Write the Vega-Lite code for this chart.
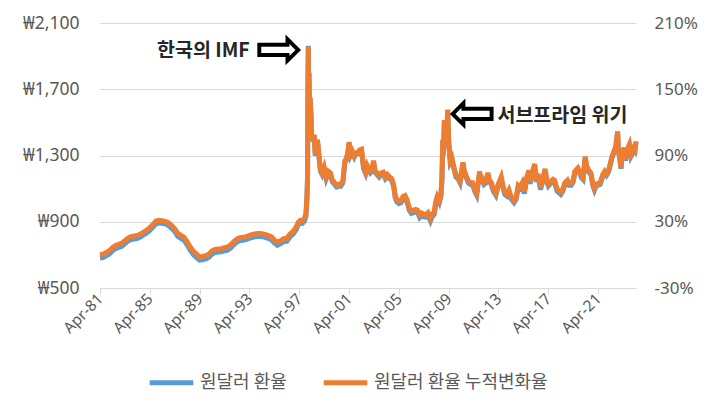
{
  "$schema": "https://vega.github.io/schema/vega-lite/v6.json",
  "width": 536,
  "height": 265,
  "autosize": {"type": "none"},
  "padding": {"left": 100, "top": 23, "right": 74, "bottom": 127},
  "background": "white",
  "config": {
    "view": {"stroke": null},
    "font": "Noto Sans",
    "axis": {"labelColor": "#595959", "title": null}
  },
  "datasets": {
    "fx": [
      {"d":"1981-04-01","r":681,"p":0.1},{"d":"1981-07-01","r":684,"p":0.6},{"d":"1981-10-01","r":694,"p":2.1},
      {"d":"1982-01-01","r":705,"p":3.7},{"d":"1982-04-01","r":725,"p":6.6},{"d":"1982-07-01","r":738,"p":8.5},{"d":"1982-10-01","r":745,"p":9.6},
      {"d":"1983-01-01","r":752,"p":10.6},{"d":"1983-04-01","r":768,"p":12.9},{"d":"1983-07-01","r":783,"p":15.1},{"d":"1983-10-01","r":793,"p":16.6},
      {"d":"1984-01-01","r":796,"p":17.1},{"d":"1984-04-01","r":800,"p":17.6},{"d":"1984-07-01","r":808,"p":18.8},{"d":"1984-10-01","r":820,"p":20.6},
      {"d":"1985-01-01","r":832,"p":22.4},{"d":"1985-04-01","r":848,"p":24.7},{"d":"1985-07-01","r":868,"p":27.6},{"d":"1985-10-01","r":888,"p":30.6},
      {"d":"1986-01-01","r":893,"p":31.3},{"d":"1986-04-01","r":891,"p":31.0},{"d":"1986-07-01","r":887,"p":30.4},{"d":"1986-10-01","r":878,"p":29.1},
      {"d":"1987-01-01","r":860,"p":26.5},{"d":"1987-04-01","r":842,"p":23.8},{"d":"1987-07-01","r":812,"p":19.4},{"d":"1987-10-01","r":800,"p":17.6},
      {"d":"1988-01-01","r":788,"p":15.9},{"d":"1988-04-01","r":760,"p":11.8},{"d":"1988-07-01","r":728,"p":7.1},{"d":"1988-10-01","r":702,"p":3.2},
      {"d":"1989-01-01","r":684,"p":0.6},{"d":"1989-04-01","r":668,"p":-1.8},{"d":"1989-07-01","r":670,"p":-1.5},{"d":"1989-10-01","r":675,"p":-0.7},
      {"d":"1990-01-01","r":685,"p":0.7},{"d":"1990-04-01","r":705,"p":3.7},{"d":"1990-07-01","r":714,"p":5.0},{"d":"1990-10-01","r":717,"p":5.4},
      {"d":"1991-01-01","r":718,"p":5.6},{"d":"1991-04-01","r":724,"p":6.5},{"d":"1991-07-01","r":728,"p":7.1},{"d":"1991-10-01","r":742,"p":9.1},
      {"d":"1992-01-01","r":762,"p":12.1},{"d":"1992-04-01","r":778,"p":14.4},{"d":"1992-07-01","r":786,"p":15.6},{"d":"1992-10-01","r":788,"p":15.9},
      {"d":"1993-01-01","r":792,"p":16.5},{"d":"1993-04-01","r":800,"p":17.6},{"d":"1993-07-01","r":806,"p":18.5},{"d":"1993-10-01","r":810,"p":19.1},
      {"d":"1994-01-01","r":812,"p":19.4},{"d":"1994-04-01","r":810,"p":19.1},{"d":"1994-07-01","r":806,"p":18.5},{"d":"1994-10-01","r":800,"p":17.6},
      {"d":"1995-01-01","r":792,"p":16.5},{"d":"1995-04-01","r":772,"p":13.5},{"d":"1995-07-01","r":758,"p":11.5},{"d":"1995-10-01","r":768,"p":12.9},
      {"d":"1996-01-01","r":780,"p":14.7},{"d":"1996-04-01","r":782,"p":15.0},{"d":"1996-07-01","r":808,"p":18.8},{"d":"1996-10-01","r":825,"p":21.3},
      {"d":"1997-01-01","r":852,"p":25.3},{"d":"1997-03-01","r":880,"p":29.4},{"d":"1997-05-01","r":892,"p":31.2},{"d":"1997-07-01","r":890,"p":30.9},
      {"d":"1997-09-01","r":905,"p":33.1},{"d":"1997-10-15","r":935,"p":37.5},{"d":"1997-11-15","r":1050,"p":54.4},{"d":"1997-12-01","r":1170,"p":72.1},
      {"d":"1997-12-12","r":1720,"p":152.9},{"d":"1997-12-23","r":1962,"p":188.5},{"d":"1997-12-31","r":1500,"p":120.6},
      {"d":"1998-01-10","r":1800,"p":164.7},{"d":"1998-01-25","r":1650,"p":142.6},{"d":"1998-02-15","r":1640,"p":141.2},{"d":"1998-03-10","r":1550,"p":127.9},
      {"d":"1998-04-01","r":1400,"p":105.9},{"d":"1998-05-01","r":1395,"p":105.1},{"d":"1998-06-15","r":1420,"p":108.8},{"d":"1998-07-15","r":1300,"p":91.2},
      {"d":"1998-08-15","r":1320,"p":94.1},{"d":"1998-09-15","r":1390,"p":104.4},{"d":"1998-10-15","r":1330,"p":95.6},{"d":"1998-11-15","r":1260,"p":85.3},
      {"d":"1998-12-15","r":1205,"p":77.2},
      {"d":"1999-02-01","r":1185,"p":74.3},{"d":"1999-04-01","r":1220,"p":79.4},{"d":"1999-06-01","r":1160,"p":70.6},{"d":"1999-08-01","r":1195,"p":75.7},
      {"d":"1999-10-01","r":1185,"p":74.3},{"d":"1999-12-01","r":1140,"p":67.6},
      {"d":"2000-02-01","r":1125,"p":65.4},{"d":"2000-04-01","r":1110,"p":63.2},{"d":"2000-06-01","r":1115,"p":64.0},{"d":"2000-08-01","r":1115,"p":64.0},
      {"d":"2000-10-01","r":1135,"p":66.9},{"d":"2000-12-01","r":1260,"p":85.3},
      {"d":"2001-01-15","r":1275,"p":87.5},{"d":"2001-03-01","r":1320,"p":94.1},{"d":"2001-04-05","r":1375,"p":102.2},{"d":"2001-05-15","r":1300,"p":91.2},
      {"d":"2001-07-01","r":1320,"p":94.1},{"d":"2001-09-01","r":1290,"p":89.7},{"d":"2001-10-15","r":1310,"p":92.6},{"d":"2001-12-15","r":1310,"p":92.6},
      {"d":"2002-02-01","r":1325,"p":94.9},{"d":"2002-04-01","r":1330,"p":95.6},{"d":"2002-06-01","r":1220,"p":79.4},{"d":"2002-08-01","r":1190,"p":75.0},
      {"d":"2002-09-15","r":1230,"p":80.9},{"d":"2002-11-01","r":1210,"p":77.9},{"d":"2002-12-15","r":1195,"p":75.7},
      {"d":"2003-02-01","r":1205,"p":77.2},{"d":"2003-03-20","r":1260,"p":85.3},{"d":"2003-05-01","r":1200,"p":76.5},{"d":"2003-07-01","r":1185,"p":74.3},
      {"d":"2003-09-01","r":1170,"p":72.1},{"d":"2003-11-01","r":1185,"p":74.3},
      {"d":"2004-01-01","r":1190,"p":75.0},{"d":"2004-03-01","r":1160,"p":70.6},{"d":"2004-05-01","r":1175,"p":72.8},{"d":"2004-07-01","r":1160,"p":70.6},
      {"d":"2004-09-01","r":1150,"p":69.1},{"d":"2004-11-01","r":1110,"p":63.2},{"d":"2004-12-15","r":1045,"p":53.7},
      {"d":"2005-02-01","r":1020,"p":50.0},{"d":"2005-04-01","r":1010,"p":48.5},{"d":"2005-06-01","r":1015,"p":49.3},{"d":"2005-08-01","r":1040,"p":52.9},
      {"d":"2005-10-01","r":1045,"p":53.7},{"d":"2005-12-01","r":1015,"p":49.3},
      {"d":"2006-02-01","r":970,"p":42.6},{"d":"2006-04-01","r":950,"p":39.7},{"d":"2006-06-01","r":955,"p":40.4},{"d":"2006-08-01","r":960,"p":41.2},
      {"d":"2006-10-01","r":955,"p":40.4},{"d":"2006-12-01","r":925,"p":36.0},
      {"d":"2007-02-01","r":938,"p":37.9},{"d":"2007-04-01","r":930,"p":36.8},{"d":"2007-06-01","r":928,"p":36.5},{"d":"2007-08-01","r":940,"p":38.2},
      {"d":"2007-10-15","r":905,"p":33.1},{"d":"2007-12-01","r":930,"p":36.8},
      {"d":"2008-02-01","r":945,"p":39.0},{"d":"2008-03-20","r":1010,"p":48.5},{"d":"2008-05-01","r":1040,"p":52.9},{"d":"2008-07-01","r":1015,"p":49.3},
      {"d":"2008-08-15","r":1050,"p":54.4},{"d":"2008-09-15","r":1150,"p":69.1},{"d":"2008-10-10","r":1390,"p":104.4},{"d":"2008-10-30","r":1300,"p":91.2},
      {"d":"2008-11-25","r":1510,"p":122.1},{"d":"2008-12-15","r":1350,"p":98.5},
      {"d":"2009-01-15","r":1380,"p":102.9},{"d":"2009-02-20","r":1500,"p":120.6},{"d":"2009-03-03","r":1575,"p":131.6},{"d":"2009-04-01","r":1380,"p":102.9},
      {"d":"2009-05-15","r":1260,"p":85.3},{"d":"2009-07-01","r":1280,"p":88.2},{"d":"2009-09-01","r":1220,"p":79.4},{"d":"2009-11-01","r":1170,"p":72.1},
      {"d":"2010-01-01","r":1160,"p":70.6},{"d":"2010-03-01","r":1135,"p":66.9},{"d":"2010-05-25","r":1250,"p":83.8},{"d":"2010-07-01","r":1200,"p":76.5},
      {"d":"2010-09-01","r":1165,"p":71.3},{"d":"2010-11-01","r":1135,"p":66.9},
      {"d":"2011-01-01","r":1125,"p":65.4},{"d":"2011-03-01","r":1125,"p":65.4},{"d":"2011-05-01","r":1085,"p":59.6},{"d":"2011-07-01","r":1060,"p":55.9},
      {"d":"2011-09-26","r":1195,"p":75.7},{"d":"2011-10-15","r":1150,"p":69.1},{"d":"2011-12-01","r":1155,"p":69.9},
      {"d":"2012-02-01","r":1125,"p":65.4},{"d":"2012-04-01","r":1135,"p":66.9},{"d":"2012-05-25","r":1185,"p":74.3},{"d":"2012-07-01","r":1145,"p":68.4},
      {"d":"2012-09-01","r":1125,"p":65.4},{"d":"2012-11-01","r":1085,"p":59.6},
      {"d":"2013-01-15","r":1060,"p":55.9},{"d":"2013-03-15","r":1110,"p":63.2},{"d":"2013-06-20","r":1160,"p":70.6},{"d":"2013-08-01","r":1115,"p":64.0},
      {"d":"2013-10-01","r":1065,"p":56.6},{"d":"2013-12-01","r":1055,"p":55.1},
      {"d":"2014-02-01","r":1080,"p":58.8},{"d":"2014-04-01","r":1040,"p":52.9},{"d":"2014-07-01","r":1015,"p":49.3},{"d":"2014-09-01","r":1035,"p":52.2},
      {"d":"2014-11-01","r":1110,"p":63.2},
      {"d":"2015-01-01","r":1100,"p":61.8},{"d":"2015-03-01","r":1125,"p":65.4},{"d":"2015-04-30","r":1070,"p":57.4},{"d":"2015-07-01","r":1150,"p":69.1},
      {"d":"2015-09-07","r":1200,"p":76.5},{"d":"2015-10-15","r":1130,"p":66.2},{"d":"2015-12-01","r":1175,"p":72.8},
      {"d":"2016-02-25","r":1240,"p":82.4},{"d":"2016-04-15","r":1140,"p":67.6},{"d":"2016-06-01","r":1180,"p":73.5},{"d":"2016-08-15","r":1095,"p":61.0},
      {"d":"2016-10-15","r":1140,"p":67.6},{"d":"2016-12-28","r":1210,"p":77.9},
      {"d":"2017-02-15","r":1140,"p":67.6},{"d":"2017-04-01","r":1115,"p":64.0},{"d":"2017-06-01","r":1130,"p":66.2},{"d":"2017-08-15","r":1145,"p":68.4},
      {"d":"2017-10-01","r":1140,"p":67.6},{"d":"2017-12-15","r":1085,"p":59.6},
      {"d":"2018-02-01","r":1075,"p":58.1},{"d":"2018-04-01","r":1065,"p":56.6},{"d":"2018-06-01","r":1085,"p":59.6},{"d":"2018-08-01","r":1125,"p":65.4},
      {"d":"2018-10-15","r":1140,"p":67.6},{"d":"2018-12-01","r":1120,"p":64.7},
      {"d":"2019-02-01","r":1120,"p":64.7},{"d":"2019-04-01","r":1140,"p":67.6},{"d":"2019-05-20","r":1195,"p":75.7},{"d":"2019-08-15","r":1215,"p":78.7},
      {"d":"2019-10-01","r":1195,"p":75.7},{"d":"2019-12-01","r":1165,"p":71.3},
      {"d":"2020-01-15","r":1155,"p":69.9},{"d":"2020-03-19","r":1285,"p":89.0},{"d":"2020-05-01","r":1225,"p":80.1},{"d":"2020-07-01","r":1200,"p":76.5},
      {"d":"2020-09-01","r":1185,"p":74.3},{"d":"2020-11-01","r":1115,"p":64.0},{"d":"2020-12-15","r":1090,"p":60.3},
      {"d":"2021-02-01","r":1115,"p":64.0},{"d":"2021-04-01","r":1120,"p":64.7},{"d":"2021-06-01","r":1125,"p":65.4},{"d":"2021-08-15","r":1175,"p":72.8},
      {"d":"2021-10-12","r":1195,"p":75.7},{"d":"2021-12-01","r":1180,"p":73.5},
      {"d":"2022-02-01","r":1200,"p":76.5},{"d":"2022-03-15","r":1235,"p":81.6},{"d":"2022-05-12","r":1285,"p":89.0},{"d":"2022-07-15","r":1320,"p":94.1},
      {"d":"2022-09-01","r":1350,"p":98.5},{"d":"2022-10-25","r":1440,"p":111.8},{"d":"2022-11-15","r":1330,"p":95.6},{"d":"2022-12-15","r":1295,"p":90.4},
      {"d":"2023-02-02","r":1220,"p":79.4},{"d":"2023-03-15","r":1310,"p":92.6},{"d":"2023-05-01","r":1340,"p":97.1},{"d":"2023-06-15","r":1270,"p":86.8},
      {"d":"2023-08-15","r":1335,"p":96.3},{"d":"2023-10-05","r":1360,"p":100.0},{"d":"2023-11-20","r":1295,"p":90.4},{"d":"2023-12-15","r":1305,"p":91.9},
      {"d":"2024-02-01","r":1335,"p":96.3},{"d":"2024-03-15","r":1325,"p":94.9},{"d":"2024-04-16","r":1380,"p":102.9}
    ],
    "notes": [
      {"d":"1993-04-10","r":1932,"t":"한국의 IMF","k":"imf"},
      {"d":"1995-09-01","r":1932,"t":"⇨","k":"arrow"},
      {"d":"2013-03-01","r":1540,"t":"서브프라임 위기","k":"sub"},
      {"d":"2011-03-10","r":1545,"t":"⇦","k":"arrow"}
    ]
  },
  "layer": [
    {
      "data": {"name": "fx"},
      "mark": {"type": "line", "strokeWidth": 5},
      "encoding": {
        "x": {
          "field": "d", "type": "temporal",
          "scale": {"domain": ["1981-04-01", "2024-04-16"]},
          "axis": {
            "values": [
              {"year":1981,"month":4,"date":1},{"year":1985,"month":4,"date":1},{"year":1989,"month":4,"date":1},
              {"year":1993,"month":4,"date":1},{"year":1997,"month":4,"date":1},{"year":2001,"month":4,"date":1},
              {"year":2005,"month":4,"date":1},{"year":2009,"month":4,"date":1},{"year":2013,"month":4,"date":1},
              {"year":2017,"month":4,"date":1},{"year":2021,"month":4,"date":1}
            ],
            "format": "%b-%y", "labelAngle": -45, "labelAlign": "right", "labelBaseline": "middle",
            "grid": false, "domainColor": "#d9d9d9", "tickColor": "#d9d9d9", "tickSize": 6,
            "labelFontSize": 15.5, "labelPadding": 2, "labelOverlap": false, "labelBound": false
          }
        },
        "y": {
          "field": "r", "type": "quantitative",
          "scale": {"domain": [500, 2100], "nice": false, "zero": false},
          "axis": {
            "values": [500, 900, 1300, 1700, 2100],
            "labelExpr": "'₩' + format(datum.value, ',')",
            "grid": true, "gridColor": "#d9d9d9", "domain": false, "ticks": false,
            "labelFontSize": 17.5, "labelPadding": 21
          }
        },
        "color": {
          "datum": "원달러 환율",
          "scale": {"domain": ["원달러 환율", "원달러 환율 누적변화율"], "range": ["#5B9BD5", "#ED7D31"]},
          "legend": {
            "orient": "none", "legendX": 47, "legendY": 335, "direction": "horizontal", "title": null,
            "symbolType": "stroke", "symbolSize": 1900, "symbolStrokeWidth": 5,
            "labelFontSize": 18, "labelColor": "#595959", "labelFont": "Noto Sans CJK KR",
            "columnPadding": 26, "labelOffset": 4, "labelLimit": 400
          }
        }
      }
    },
    {
      "data": {"name": "fx"},
      "mark": {"type": "line", "strokeWidth": 5},
      "encoding": {
        "x": {"field": "d", "type": "temporal"},
        "y": {
          "field": "p", "type": "quantitative",
          "scale": {"domain": [-30, 210], "nice": false, "zero": false},
          "axis": {
            "orient": "right",
            "values": [-30, 30, 90, 150, 210],
            "labelExpr": "datum.value + '%'",
            "grid": false, "domain": false, "ticks": false,
            "labelFontSize": 17, "labelPadding": 18
          }
        },
        "color": {"datum": "원달러 환율 누적변화율"}
      }
    },
    {
      "data": {"name": "notes"},
      "transform": [{"filter": "datum.k == 'imf'"}],
      "mark": {"type": "text", "align": "right", "baseline": "middle", "font": "Noto Sans CJK KR", "fontWeight": "bold", "fontSize": 19.5, "color": "#262626"},
      "encoding": {
        "x": {"field": "d", "type": "temporal"},
        "y": {"field": "r", "type": "quantitative", "scale": {"domain": [500, 2100], "nice": false, "zero": false}, "axis": null},
        "text": {"field": "t"}
      }
    },
    {
      "data": {"name": "notes"},
      "transform": [{"filter": "datum.k == 'sub'"}],
      "mark": {"type": "text", "align": "left", "baseline": "middle", "font": "Noto Sans CJK KR", "fontWeight": "bold", "fontSize": 19.5, "color": "#262626"},
      "encoding": {
        "x": {"field": "d", "type": "temporal"},
        "y": {"field": "r", "type": "quantitative", "scale": {"domain": [500, 2100], "nice": false, "zero": false}, "axis": null},
        "text": {"field": "t"}
      }
    },
    {
      "data": {"name": "notes"},
      "transform": [{"filter": "datum.k == 'arrow'"}],
      "mark": {"type": "text", "align": "center", "baseline": "middle", "font": "DejaVu Sans", "fontWeight": "bold", "fontSize": 58, "color": "#000000"},
      "encoding": {
        "x": {"field": "d", "type": "temporal"},
        "y": {"field": "r", "type": "quantitative", "scale": {"domain": [500, 2100], "nice": false, "zero": false}, "axis": null},
        "text": {"field": "t"}
      }
    }
  ],
  "resolve": {"scale": {"y": "independent"}}
}
